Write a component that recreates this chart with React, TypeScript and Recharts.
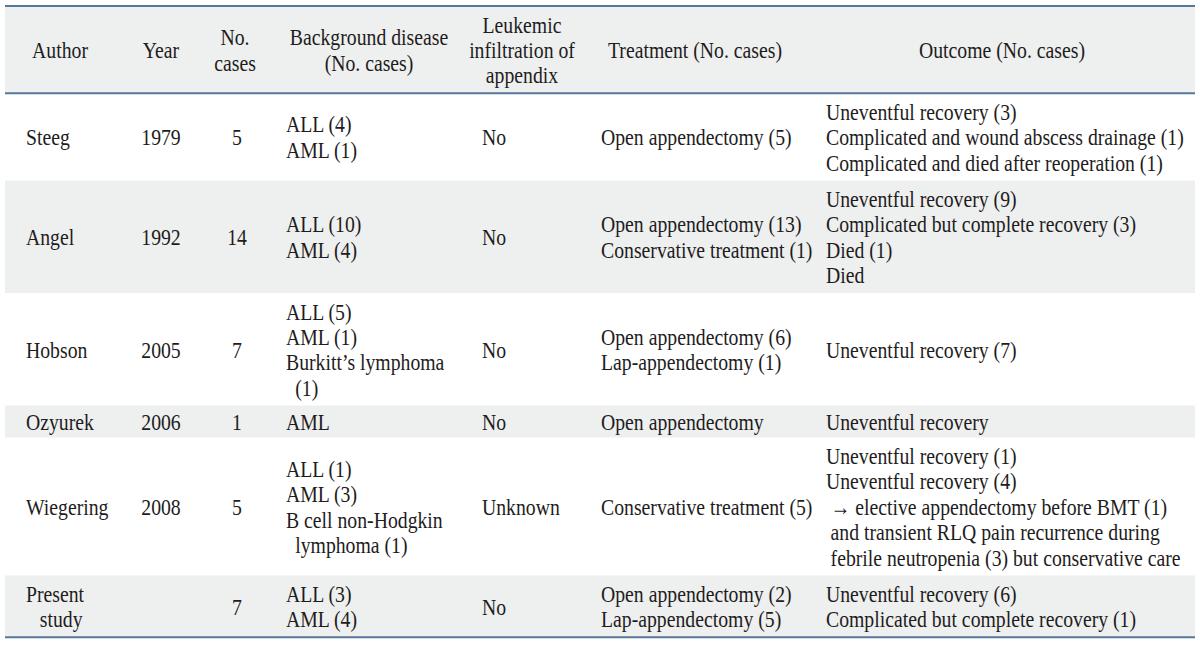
import { Surface, Layer, Rectangle, Text } from 'recharts';

// 표 내용 (각 셀은 줄 단위 배열)
const headers = [
  ['Author'],
  ['Year'],
  ['No.', 'cases'],
  ['Background disease', '(No. cases)'],
  ['Leukemic', 'infiltration of', 'appendix'],
  ['Treatment (No. cases)'],
  ['Outcome (No. cases)'],
];
const authors = [['Steeg'], ['Angel'], ['Hobson'], ['Ozyurek'], ['Wiegering'], ['Present', '   study']];
const years = ['1979', '1992', '2005', '2006', '2008', ''];
const caseCounts = ['5', '14', '7', '1', '5', '7'];
const backgrounds = [
  ['ALL (4)', 'AML (1)'],
  ['ALL (10)', 'AML (4)'],
  ['ALL (5)', 'AML (1)', 'Burkitt\u2019s lymphoma', '  (1)'],
  ['AML'],
  ['ALL (1)', 'AML (3)', 'B cell non-Hodgkin', '  lymphoma (1)'],
  ['ALL (3)', 'AML (4)'],
];
const infiltration = ['No', 'No', 'No', 'No', 'Unknown', 'No'];
const treatments = [
  ['Open appendectomy (5)'],
  ['Open appendectomy (13)', 'Conservative treatment (1)'],
  ['Open appendectomy (6)', 'Lap-appendectomy (1)'],
  ['Open appendectomy'],
  ['Conservative treatment (5)'],
  ['Open appendectomy (2)', 'Lap-appendectomy (5)'],
];
const outcomes = [
  ['Uneventful recovery (3)', 'Complicated and wound abscess drainage (1)', 'Complicated and died after reoperation (1)'],
  ['Uneventful recovery (9)', 'Complicated but complete recovery (3)', 'Died (1)', 'Died'],
  ['Uneventful recovery (7)'],
  ['Uneventful recovery'],
  [
    'Uneventful recovery (1)',
    'Uneventful recovery (4)',
    ' \u2192 elective appendectomy before BMT (1)',
    ' and transient RLQ pain recurrence during',
    ' febrile neutropenia (3) but conservative care',
  ],
  ['Uneventful recovery (6)', 'Complicated but complete recovery (1)'],
];

const WIDTH = 1200;
const HEIGHT = 649;
const LEFT = 5;
const RIGHT = 1195;
const TOP = 6;
const LINE_H = 25.4;
const FONT = 23.5;
const SX = 0.84; // 글자 가로 압축
const TEXT_COLOR = '#1e1c1d';
const STRIPE = '#eeefef';
const RULE = '#57779a';

// 열 설정: 헤더 중심, 데이터 x, 정렬
const columns = [
  { header: 60, x: 26, anchor: 'start' },
  { header: 161, x: 161, anchor: 'middle' },
  { header: 235, x: 237, anchor: 'middle' },
  { header: 369, x: 286, anchor: 'start' },
  { header: 522, x: 482, anchor: 'start' },
  { header: 695, x: 601, anchor: 'start' },
  { header: 1002, x: 826, anchor: 'start' },
];

const rowHeight = (n: number) => n * LINE_H + (n === 1 ? 6.5 : 11);

function Lines({ lines, x, cy, anchor }: { lines: string[]; x: number; cy: number; anchor: string }) {
  const y0 = cy - ((lines.length - 1) * LINE_H) / 2;
  return (
    <>
      {lines.map((raw, i) => {
        const indent = raw.length - raw.trimStart().length;
        const text = raw.trim();
        if (!text) return null;
        return (
          <g key={i} transform={`translate(${x + indent * 4.6} ${y0 + i * LINE_H}) scale(${SX} 1)`}>
            <Text
              x={0}
              y={0}
              textAnchor={anchor as 'start' | 'middle'}
              verticalAnchor="middle"
              fontSize={FONT}
              fontFamily='"Liberation Serif", "Times New Roman", serif'
              fill={TEXT_COLOR}
            >
              {text}
            </Text>
          </g>
        );
      })}
    </>
  );
}

export default function App() {
  const headerH = rowHeight(3);
  const rows = authors.map((a, i) => [
    a,
    [years[i]],
    [caseCounts[i]],
    backgrounds[i],
    [infiltration[i]],
    treatments[i],
    outcomes[i],
  ]);

  let y = TOP + headerH;
  const rowLayout = rows.map((cells) => {
    const n = Math.max(...cells.map((c) => c.length));
    const h = rowHeight(n);
    const top = y;
    y += h;
    return { cells, top, h };
  });

  return (
    <div style={{ position: 'absolute', left: 0, top: 0, width: WIDTH, height: HEIGHT, background: '#fff' }}>
      <Surface width={WIDTH} height={HEIGHT}>
        <Layer className="table-bg">
          <Rectangle x={LEFT} y={TOP} width={RIGHT - LEFT} height={headerH} fill={STRIPE} />
          {rowLayout.map((r, i) =>
            i % 2 === 1 ? (
              <Rectangle key={i} x={LEFT} y={r.top} width={RIGHT - LEFT} height={r.h} fill={STRIPE} />
            ) : null,
          )}
        </Layer>
        <Layer className="table-header">
          {headers.map((lines, c) => (
            <Lines key={c} lines={lines} x={columns[c].header} cy={TOP + headerH / 2} anchor="middle" />
          ))}
        </Layer>
        <Layer className="table-body">
          {rowLayout.map((r, i) =>
            r.cells.map((lines, c) => (
              <Lines
                key={`${i}-${c}`}
                lines={lines}
                x={columns[c].x}
                cy={r.top + r.h / 2}
                anchor={columns[c].anchor}
              />
            )),
          )}
        </Layer>
        <Layer className="table-rules">
          <Rectangle x={LEFT} y={TOP - 1} width={RIGHT - LEFT} height={2} fill={RULE} />
          <Rectangle x={LEFT} y={TOP + headerH - 1} width={RIGHT - LEFT} height={2} fill={RULE} />
          <Rectangle x={LEFT} y={y - 1} width={RIGHT - LEFT} height={2} fill={RULE} />
        </Layer>
      </Surface>
    </div>
  );
}
